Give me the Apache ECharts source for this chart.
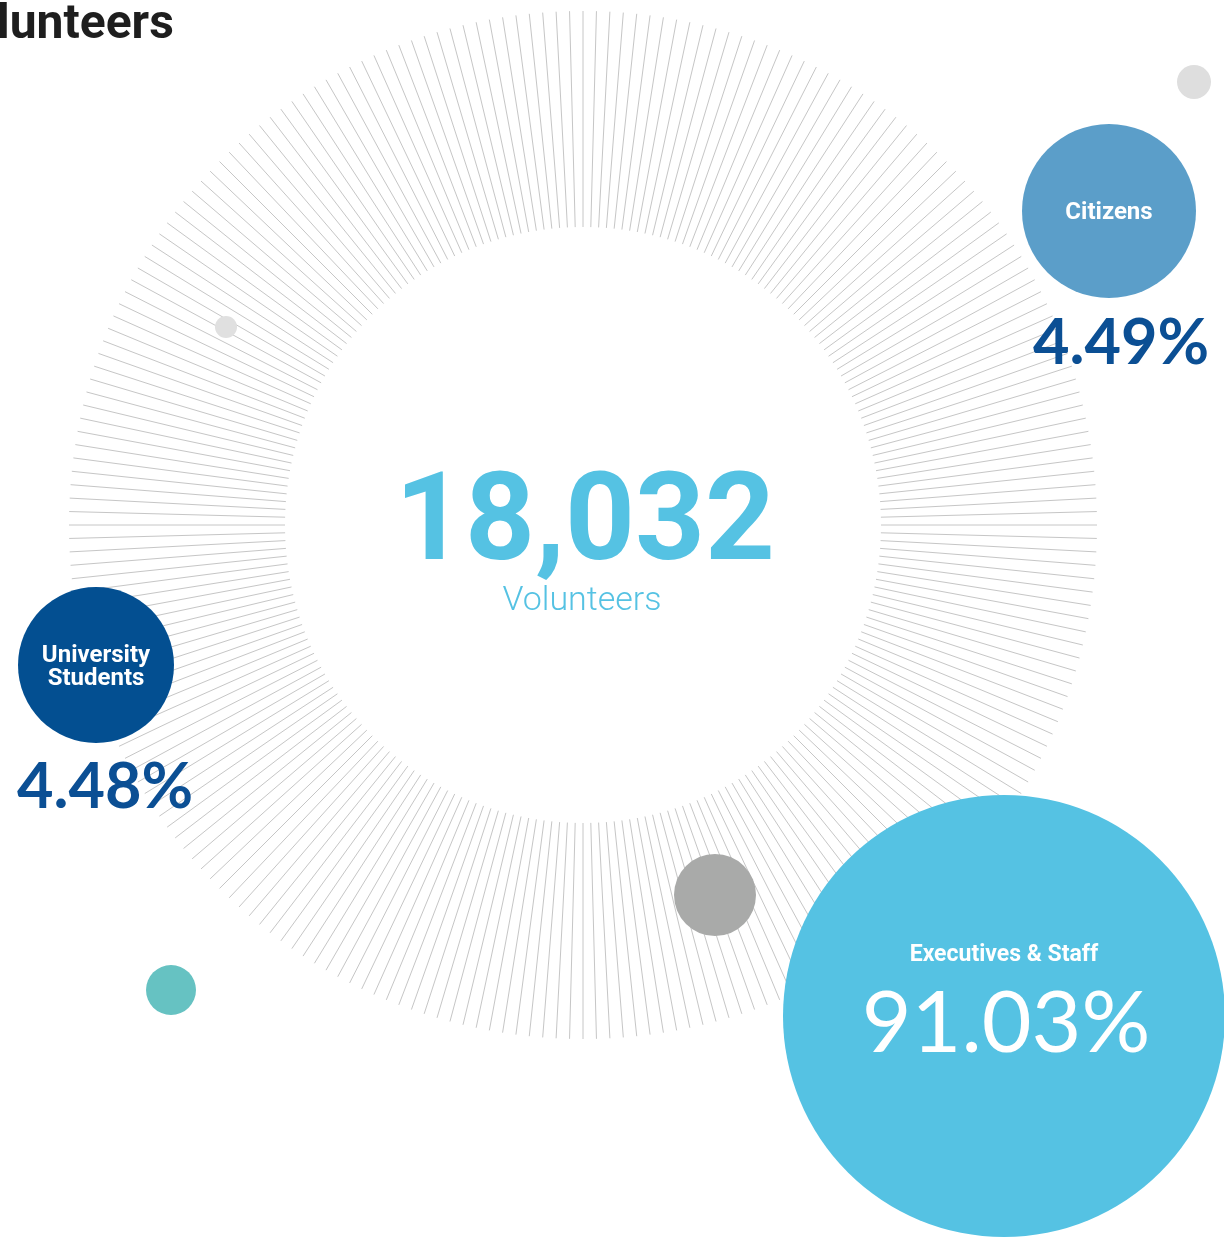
<!DOCTYPE html>
<html><head><meta charset="utf-8">
<script src="https://cdn.jsdelivr.net/npm/echarts@6/dist/echarts.min.js"></script>
<style>html,body{margin:0;padding:0;background:#fff}#c{width:1224px;height:1240px}</style>
</head><body><div id="c"></div>
<script>
// ---- data ----
const titleText = 'lunteers';
const totalVolunteers = 18032;
const totalLabel = 'Volunteers';
const categories = ['Executives & Staff', 'Citizens', 'University Students'];
const shares = [91.03, 4.49, 4.48];
const rayStepDeg = 1.5; // 240 radial rays

// ---- layout / style ----
const W = 1224, H = 1240;
const ring = { center: [583, 525], inner: 298, outer: 514 };
const bubbleLayout = {
  'Executives & Staff': { x: 1004, y: 1016, r: 221, color: '#55C2E3', nameY: 955, nameSize: 23, pctX: 1006, pctY: 1024, pctSize: 86, pctWeight: 'normal', pctColor: '#ffffff' },
  'Citizens': { x: 1109, y: 211, r: 87, color: '#5B9EC9', nameY: 213, nameSize: 24, pctX: 1121, pctY: 344, pctSize: 63, pctWeight: 'bold', pctColor: '#0B4F94' },
  'University Students': { x: 96, y: 665, r: 78, color: '#034F91', nameY: 667, nameSize: 24, pctX: 105, pctY: 788, pctSize: 63, pctWeight: 'bold', pctColor: '#0B4F94' }
};
const decorLayout = [
  { x: 715, y: 895, r: 41, color: '#A9AAA9' },
  { x: 1194, y: 82, r: 17, color: '#DEDEDE' },
  { x: 226, y: 327, r: 11, color: '#E0E0E0' },
  { x: 171, y: 990, r: 25, color: '#66C2C2' }
];
const labelFont = 'Roboto';
const pctFont = 'Lato';

const chart = echarts.init(document.getElementById('c'), null, { renderer: 'canvas' });

const bubbleData = categories.map((c, i) => {
  const L = bubbleLayout[c];
  return { name: c, value: [L.x, L.y, shares[i]], symbolSize: L.r * 2, itemStyle: { color: L.color, opacity: 1 } };
});
const decorData = decorLayout.map(d => ({ value: [d.x, d.y], symbolSize: d.r * 2, itemStyle: { color: d.color, opacity: 1 } }));

const graphics = [];
graphics.push({ type: 'text', x: -3, y: 26, z: 10, style: { text: titleText, font: 'bold 48px ' + labelFont, fill: '#1e1e1e', align: 'left', verticalAlign: 'middle' } });
graphics.push({ type: 'text', x: 585, y: 528, z: 10, style: { text: totalVolunteers.toLocaleString('en-US'), font: 'bold 122px ' + labelFont, fill: '#55C2E3', align: 'center', verticalAlign: 'middle' } });
graphics.push({ type: 'text', x: 582, y: 601, z: 10, style: { text: totalLabel, font: '300 34px ' + labelFont, fill: '#55C2E3', align: 'center', verticalAlign: 'middle' } });
categories.forEach((c, i) => {
  const L = bubbleLayout[c];
  const lines = c === 'University Students' ? ['University', 'Students'] : [c];
  lines.forEach((t, k) => {
    const y = lines.length === 1 ? L.nameY : L.nameY - 11.5 + k * 23.5;
    graphics.push({ type: 'text', x: L.x, y: y, z: 10, style: { text: t, font: 'bold ' + L.nameSize + 'px ' + labelFont, fill: '#ffffff', align: 'center', verticalAlign: 'middle' } });
  });
  graphics.push({ type: 'text', x: L.pctX, y: L.pctY, z: 10, style: { text: shares[i].toFixed(2) + '%', font: L.pctWeight + ' ' + L.pctSize + 'px ' + pctFont, fill: L.pctColor, align: 'center', verticalAlign: 'middle' } });
});

chart.setOption({
  animation: false,
  backgroundColor: '#ffffff',
  grid: { left: 0, right: 0, top: 0, bottom: 0 },
  xAxis: { type: 'value', min: 0, max: W, show: false },
  yAxis: { type: 'value', min: 0, max: H, inverse: true, show: false },
  polar: { center: ring.center, radius: [ring.inner, ring.outer] },
  angleAxis: {
    type: 'value', min: 0, max: 360, interval: rayStepDeg, startAngle: 90,
    axisLine: { show: false }, axisTick: { show: false }, axisLabel: { show: false },
    splitLine: { show: true, lineStyle: { color: '#c6c6c6', width: 1 } }
  },
  radiusAxis: {
    type: 'value', min: 0, max: 1,
    axisLine: { show: false }, axisTick: { show: false }, axisLabel: { show: false }, splitLine: { show: false }
  },
  series: [
    { type: 'scatter', coordinateSystem: 'polar', data: [], silent: true },
    { type: 'scatter', name: 'decor', data: decorData, silent: true, z: 3 },
    { type: 'scatter', name: 'groups', data: bubbleData, silent: true, z: 4 }
  ],
  graphic: graphics
});
</script>
</body></html>
